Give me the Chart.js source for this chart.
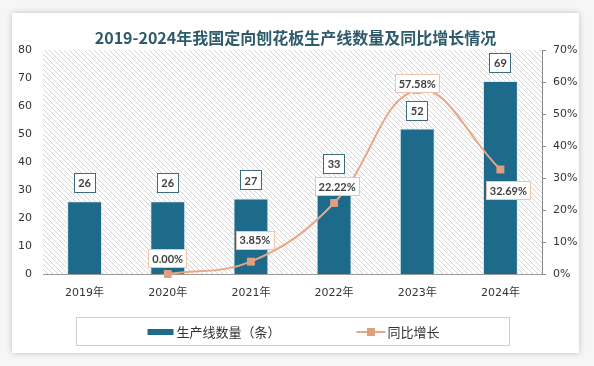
<!DOCTYPE html>
<html><head><meta charset="utf-8">
<script src="https://cdn.jsdelivr.net/npm/chart.js@4"></script>
<style>
html,body{margin:0;padding:0;background:#f6f6f6;width:594px;height:366px;overflow:hidden;}
#card{position:absolute;left:12px;top:13px;width:567px;height:340px;background:#fff;box-shadow:0 0 6px rgba(0,0,0,0.22);}
canvas{display:block}
</style></head><body>
<div id="card"><canvas id="c" width="567" height="340"></canvas></div>
<script>
const categories = ['2019年','2020年','2021年','2022年','2023年','2024年'];
const lineCounts = [26, 26, 27, 33, 52, 69];
const yoyGrowth = [null, 0.00, 3.85, 22.22, 57.58, 32.69];
const yoyLabels = [null, '0.00%', '3.85%', '22.22%', '57.58%', '32.69%'];
const leftTickLabels = ['0','10','20','30','40','50','60','70','80'];
const rightTickLabels = ['0%','10%','20%','30%','40%','50%','60%','70%'];
const seriesNames = ['生产线数量（条）', '同比增长'];
const titleText = '2019-2024年我国定向刨花板生产线数量及同比增长情况';

const BAR_COLOR = '#1e6a8a';
const LINE_COLOR = '#e8a686';
const MARK_COLOR = '#e0a080';
const AXIS_FONT = {family: "'DejaVu Sans','Noto Sans CJK SC'", size: 11};

// hatch pattern
const pc = document.createElement('canvas');
pc.width = 5; pc.height = 5;
const pctx = pc.getContext('2d');
pctx.fillStyle = '#fff'; pctx.fillRect(0,0,5,5);
pctx.strokeStyle = '#d6d6d6'; pctx.lineWidth = 1;
pctx.beginPath();
pctx.moveTo(-1,-1); pctx.lineTo(6,6);
pctx.moveTo(-1,4); pctx.lineTo(1,6);
pctx.moveTo(4,-1); pctx.lineTo(6,1);
pctx.stroke();

const hatchPlugin = {
  id: 'hatch',
  beforeDraw(chart) {
    const {ctx, chartArea: a} = chart;
    ctx.save();
    ctx.fillStyle = ctx.createPattern(pc, 'repeat');
    ctx.fillRect(a.left, a.top, a.right - a.left, a.bottom - a.top);
    ctx.restore();
  }
};

function labelBox(ctx, cx, cy, text, border, minW, h) {
  ctx.font = "bold 11px Lato, 'DejaVu Sans'";
  const w = Math.max(ctx.measureText(text).width + 8, minW);
  const x = Math.round(cx - w / 2), y = Math.round(cy - h / 2);
  ctx.fillStyle = '#fff';
  ctx.fillRect(x, y, w, h);
  ctx.strokeStyle = border; ctx.lineWidth = 1;
  ctx.strokeRect(x + 0.5, y + 0.5, Math.round(w) - 1, h - 1);
  ctx.fillStyle = '#404040';
  ctx.textAlign = 'center'; ctx.textBaseline = 'middle';
  ctx.fillText(text, cx, cy + 0.5);
}

const labelPlugin = {
  id: 'valueLabels',
  afterDatasetsDraw(chart, args, opts) {
    const ctx = chart.ctx;
    ctx.save();
    const barMeta = chart.getDatasetMeta(0);
    barMeta.data.forEach((el, i) => {
      labelBox(ctx, el.x, el.y - 18, String(lineCounts[i]), '#3b6b7c', 22, 20);
    });
    const lineMeta = chart.getDatasetMeta(1);
    lineMeta.data.forEach((el, i) => {
      if (yoyLabels[i] == null) return;
      const off = opts.lineOffsets[i];
      labelBox(ctx, el.x + off[0], el.y + off[1], yoyLabels[i], '#efc3ac', 20, 19);
    });
    ctx.restore();
  }
};

const legendPlugin = {
  id: 'boxLegend',
  afterDraw(chart) {
    const {ctx, chartArea: a} = chart;
    ctx.save();
    const cx = (a.left + a.right) / 2;
    const top = a.bottom + 43, h = 28, w = 433;
    ctx.strokeStyle = '#cfcfcf'; ctx.lineWidth = 1;
    ctx.strokeRect(Math.round(cx - w / 2) + 0.5, top + 0.5, w, h);
    ctx.font = "13px 'Noto Sans CJK SC'";
    const t1 = ctx.measureText(seriesNames[0]).width;
    const t2 = ctx.measureText(seriesNames[1]).width;
    const total = 26 + 3 + t1 + 76 + 29 + 2 + t2;
    let x = cx - total / 2 + 1;
    const cy = top + h / 2 + 1;
    ctx.fillStyle = BAR_COLOR;
    ctx.fillRect(x, cy - 3, 26, 6);
    x += 29;
    ctx.fillStyle = '#333';
    ctx.textAlign = 'left'; ctx.textBaseline = 'middle';
    ctx.fillText(seriesNames[0], x, cy);
    x += t1 + 76;
    ctx.strokeStyle = LINE_COLOR; ctx.lineWidth = 2;
    ctx.beginPath(); ctx.moveTo(x, cy); ctx.lineTo(x + 29, cy); ctx.stroke();
    ctx.fillStyle = MARK_COLOR;
    ctx.fillRect(x + 14.5 - 4, cy - 4, 8, 8);
    x += 31;
    ctx.fillStyle = '#333';
    ctx.fillText(seriesNames[1], x, cy);
    ctx.restore();
  }
};

new Chart(document.getElementById('c'), {
  data: {
    labels: categories,
    datasets: [
      {
        type: 'bar', label: seriesNames[0], data: lineCounts, yAxisID: 'y',
        backgroundColor: BAR_COLOR, borderColor: '#d8eef4', borderWidth: 1,
        barPercentage: 0.42, categoryPercentage: 1, order: 2
      },
      {
        type: 'line', label: seriesNames[1], data: yoyGrowth, yAxisID: 'y2',
        borderColor: LINE_COLOR, borderWidth: 2, tension: 0.4,
        pointStyle: 'rect', pointRadius: 5.6, pointBackgroundColor: MARK_COLOR,
        pointBorderColor: MARK_COLOR, pointBorderWidth: 0, clip: false, order: 1
      }
    ]
  },
  options: {
    responsive: false, animation: false, devicePixelRatio: 1,
    layout: {padding: 0},
    plugins: {
      legend: {display: false},
      tooltip: {enabled: false},
      title: {
        display: true, text: titleText, color: '#2e5b6b',
        font: {family: "'Noto Sans CJK SC'", size: 16, weight: 'bold'},
        padding: {top: 15, bottom: 3}
      },
      valueLabels: {lineOffsets: [[0,0],[0,-15.5],[4,-21.5],[3,-16],[0,-6],[8,21.5]]}
    },
    scales: {
      x: {
        grid: {display: false, drawTicks: false},
        border: {display: true, color: '#9a9a9a'},
        ticks: {color: '#333', font: AXIS_FONT, padding: 13},
        afterFit(s) { s.height = 79; }
      },
      y: {
        position: 'left', min: 0, max: 80,
        grid: {display: false, drawTicks: false},
        border: {display: false},
        ticks: {stepSize: 10, color: '#333', font: AXIS_FONT, padding: 11,
          callback: (v, i) => leftTickLabels[i]},
        afterFit(s) { s.width = 31; }
      },
      y2: {
        position: 'right', min: 0, max: 70,
        grid: {display: true, drawOnChartArea: false, drawTicks: true, tickLength: 4, color: '#8a8a8a'},
        border: {display: true, color: '#8a8a8a'},
        ticks: {stepSize: 10, color: '#333', font: AXIS_FONT, padding: 7,
          callback: (v, i) => rightTickLabels[i]},
        afterFit(s) { s.width = 37; }
      }
    }
  },
  plugins: [hatchPlugin, labelPlugin, legendPlugin]
});
</script>
</body></html>
